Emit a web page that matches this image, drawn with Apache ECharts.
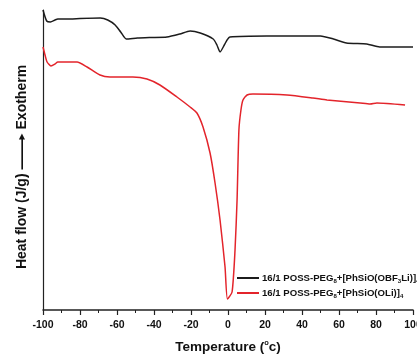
<!DOCTYPE html>
<html>
<head>
<meta charset="utf-8">
<script src="https://cdn.jsdelivr.net/npm/echarts@6/dist/echarts.min.js"></script>
<style>
  html, body { margin: 0; padding: 0; background: #fff; }
  #chart { width: 417px; height: 355px; }
</style>
</head>
<body>
<div id="chart"></div>
<script>
// DSC traces, heat flow in arbitrary units
const xTicks = [-100, -80, -60, -40, -20, 0, 20, 40, 60, 80, 100];

const bfTemp = [-100, -98, -96, -93.5, -92, -85, -80, -69, -65, -61, -58, -55, -49, -42, -33, -26, -20.5, -15, -8, -6, -4.3, -2, -0.5, 1, 21, 50, 57, 64, 75, 82, 100];
const bfFlow = [300, 289, 288, 290, 291, 291, 291.5, 292, 290, 285, 278, 271, 272, 272.5, 273, 276, 279, 277, 271, 265, 258, 265, 270, 273, 274, 274, 271, 267, 266, 263, 263];

const oliTemp = [-100, -98.9, -97.8, -95.7, -93.5, -92, -81.6, -76.2, -69.2, -63.8, -51.4, -43.8, -36.8, -27.6, -20.5, -16.8, -13.5, -9.7, -7, -4.3, -1.6, -0.3, 2.2, 3.8, 4.9, 5.9, 7, 8.1, 10.3, 13.5, 31.9, 45.9, 53.5, 71.4, 76.8, 80.5, 95.7];
const oliFlow = [263, 255, 248, 244, 246, 248, 248, 243, 235, 233, 233, 231, 225, 213, 203, 197, 183, 157, 127, 90, 43, 11, 18, 60, 110, 180, 200, 210, 215, 216, 215, 212, 210, 207, 206, 207, 205];

const names = ['bf', 'oli'];

const zip = (a, b) => a.map((t, i) => [t, b[i]]);

const chart = echarts.init(document.getElementById('chart'));

const font = 'Arial, "Liberation Sans", sans-serif';

chart.setOption({
  animation: false,
  grid: { left: 43, right: 4, top: 10, bottom: 45, outerBoundsMode: 'none', containLabel: false },
  legend: {
    orient: 'vertical',
    left: 232,
    top: 268,
    itemWidth: 22,
    itemHeight: 2,
    itemGap: 4,
    icon: 'rect',
    data: names,
    formatter: (n) => n === 'bf'
      ? '{a|16/1 POSS-PEG}{s|8}{a|+[PhSiO(OBF}{s|3}{a|Li)]}{s|4}'
      : '{a|16/1 POSS-PEG}{s|8}{a|+[PhSiO(OLi)]}{s|4}',
    textStyle: {
      padding: [0, 0, 0, -2],
      rich: {
        a: { fontFamily: font, fontWeight: 'bold', fontSize: 9.6, color: '#111' },
        s: { fontFamily: font, fontWeight: 'bold', fontSize: 6, color: '#111', padding: [6, 0, 0, 0] }
      }
    }
  },
  xAxis: {
    type: 'value',
    min: -100,
    max: 100,
    interval: 20,
    name: 'Temperature ({o|o}c)',
    nameLocation: 'middle',
    nameGap: 29,
    nameTextStyle: {
      fontFamily: font, fontWeight: 'bold', fontSize: 13.5, color: '#111',
      rich: { o: { fontFamily: font, fontWeight: 'bold', fontSize: 7.5, color: '#111', padding: [0, 0, 8, 0] } }
    },
    axisLine: { onZero: false, lineStyle: { color: '#222', width: 1.5 } },
    axisTick: { show: true, length: 5, lineStyle: { color: '#222', width: 1.2 } },
    minorTick: { show: true, splitNumber: 2, length: 3, lineStyle: { color: '#222', width: 1 } },
    axisLabel: {
      fontFamily: font, fontWeight: 'bold', fontSize: 10.5, color: '#111', margin: 10,
      formatter: (v) => xTicks.includes(v) ? String(v) : ''
    },
    splitLine: { show: false }
  },
  yAxis: {
    type: 'value',
    min: 0,
    max: 300,
    name: 'Heat flow (J/g) {d|\u2014\u2014}{h|\u25B6} Exotherm',
    nameLocation: 'middle',
    nameGap: 12,
    nameTextStyle: {
      fontFamily: font, fontWeight: 'bold', fontSize: 14, color: '#111', padding: [0, 14, 0, 0],
      rich: {
        d: { fontFamily: font, fontSize: 16.5, color: '#111' },
        h: { fontFamily: 'DejaVu Sans', fontSize: 8, color: '#111', padding: [0, 0, 1, -3] }
      }
    },
    axisLine: { show: true, onZero: false, lineStyle: { color: '#222', width: 1.2 } },
    axisTick: { show: false },
    axisLabel: { show: false },
    splitLine: { show: false }
  },
  series: [
    {
      name: 'bf',
      type: 'line',
      data: zip(bfTemp, bfFlow),
      showSymbol: false,
      smooth: 0.2,
      color: '#1c1c1c',
      lineStyle: { width: 1.5 }
    },
    {
      name: 'oli',
      type: 'line',
      data: zip(oliTemp, oliFlow),
      showSymbol: false,
      smooth: 0.2,
      color: '#e3242b',
      lineStyle: { width: 1.5 }
    }
  ]
});
</script>
</body>
</html>
